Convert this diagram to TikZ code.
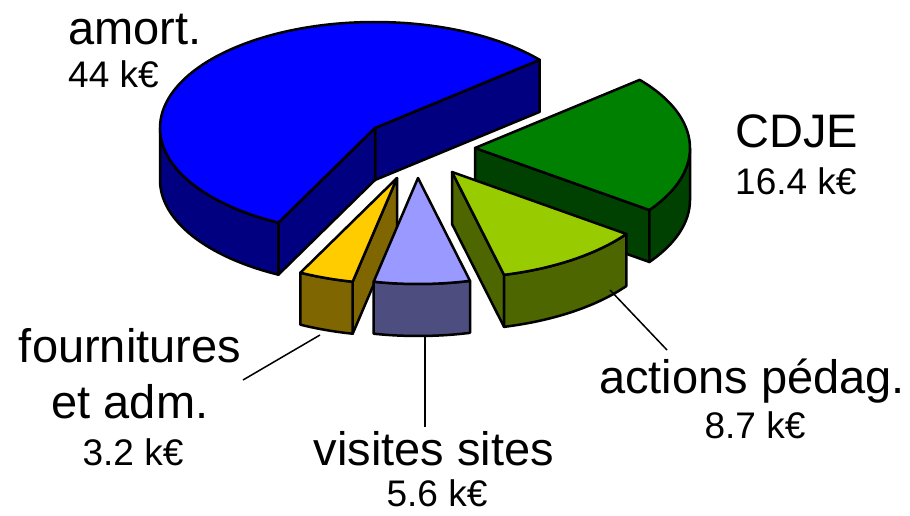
\documentclass[tikz,border=0pt]{standalone}
\usepackage{fontspec}
\setmainfont{Liberation Sans}
\usetikzlibrary{calc}

\definecolor{amortTop}{HTML}{0000FF}
\definecolor{amortSide}{HTML}{000080}
\definecolor{cdjeTop}{HTML}{008000}
\definecolor{cdjeSide}{HTML}{004000}
\definecolor{actTop}{HTML}{99CC00}
\definecolor{actSide}{HTML}{4D6600}
\definecolor{visTop}{HTML}{9999FF}
\definecolor{visSide}{HTML}{4D4D80}
\definecolor{fouTop}{HTML}{FFCC00}
\definecolor{fouSide}{HTML}{806600}

\begin{document}
\begin{tikzpicture}[x=1pt,y=1pt,
		face/.style={draw=black,line width=2.5pt,line join=round},
		rim/.style={x radius=215,y radius=106},
		lbl/.style={font=\fontsize{47}{56}\selectfont,inner sep=0pt},
		val/.style={font=\fontsize{37}{44}\selectfont,inner sep=0pt},
		leader/.style={line width=1.5pt}]
	
		\useasboundingbox (0,0) rectangle (910,515);
		
		\coordinate (cA) at (375,387);
		\coordinate (cB) at (475,367);
		\coordinate (cC) at (452,343);
		\coordinate (cD) at (418,337);
		\coordinate (cE) at (397,337);
		
		% amort.
		\filldraw[face,fill=amortSide] (cA) -- ($(cA)+(40:215 and 106)$) -- ++(0,-52) -- ($(cA)+(0,-52)$) -- cycle;
		\filldraw[face,fill=amortSide] (cA) -- ($(cA)+(243.3:215 and 106)$) -- ++(0,-52) -- ($(cA)+(0,-52)$) -- cycle;
		\filldraw[face,fill=amortSide] ($(cA)+(180:215 and 106)$) arc[rim,start angle=180,end angle=243.3] -- ++(0,-52) arc[rim,start angle=243.3,end angle=180] -- cycle;
		\filldraw[face,fill=amortTop] (cA) -- ($(cA)+(40:215 and 106)$) arc[rim,start angle=40,end angle=243.3] -- cycle;
		
		% CDJE
		\filldraw[face,fill=cdjeSide] (cB) -- ($(cB)+(324.2:215 and 106)$) -- ++(0,-52) -- ($(cB)+(0,-52)$) -- cycle;
		\filldraw[face,fill=cdjeSide] ($(cB)+(324.2:215 and 106)$) arc[rim,start angle=324.2,end angle=360] -- ++(0,-52) arc[rim,start angle=360,end angle=324.2] -- cycle;
		\filldraw[face,fill=cdjeTop] (cB) -- ($(cB)+(324.2:215 and 106)$) arc[rim,start angle=324.2,end angle=400] -- cycle;
		
		% actions
		\filldraw[face,fill=actSide] (cC) -- ($(cC)+(284:215 and 106)$) -- ++(0,-52) -- ($(cC)+(0,-52)$) -- cycle;
		\filldraw[face,fill=actSide] ($(cC)+(284:215 and 106)$) arc[rim,start angle=284,end angle=324.2] -- ++(0,-52) arc[rim,start angle=324.2,end angle=284] -- cycle;
		\filldraw[face,fill=actTop] (cC) -- ($(cC)+(284:215 and 106)$) arc[rim,start angle=284,end angle=324.2] -- cycle;
		
		% fournitures
		\filldraw[face,fill=fouSide] (cE) -- ($(cE)+(258.1:215 and 106)$) -- ++(0,-52) -- ($(cE)+(0,-52)$) -- cycle;
		\filldraw[face,fill=fouSide] ($(cE)+(243.3:215 and 106)$) arc[rim,start angle=243.3,end angle=258.1] -- ++(0,-52) arc[rim,start angle=258.1,end angle=243.3] -- cycle;
		\filldraw[face,fill=fouTop] (cE) -- ($(cE)+(243.3:215 and 106)$) arc[rim,start angle=243.3,end angle=258.1] -- cycle;
		
		% visites
		\filldraw[face,fill=visSide] ($(cD)+(258.1:215 and 106)$) arc[rim,start angle=258.1,end angle=284] -- ++(0,-52) arc[rim,start angle=284,end angle=258.1] -- cycle;
		\filldraw[face,fill=visTop] (cD) -- ($(cD)+(258.1:215 and 106)$) arc[rim,start angle=258.1,end angle=284] -- cycle;
		
		% labels
		\node[lbl,anchor=base west] (amortLbl) at (68,470) {amort.};
		\node[val,anchor=base west] (amortVal) at (68,427) {44 k€};
		\node[lbl,anchor=base west] (cdjeLbl) at (735,367) {CDJE};
		\node[val,anchor=base west] (cdjeVal) at (735,320) {16.4 k€};
		\node[lbl,anchor=base] (actLbl) at (752,122) {actions pédag.};
		\node[val,anchor=base] (actVal) at (755,77) {8.7 k€};
		\node[lbl,anchor=base] (visLbl) at (434,50) {visites sites};
		\node[val,anchor=base] (visVal) at (437,9) {5.6 k€};
		\node[lbl,anchor=base] (fouLbl) at (130,153) {fournitures};
		\node[lbl,anchor=base] (fouLblB) at (130,97) {et adm.};
		\node[val,anchor=base] (fouVal) at (133,50) {3.2 k€};
		
		\coordinate (actPin) at (610,225);
		\coordinate (actEnd) at (667,165);
		\coordinate (visPin) at (425,180);
		\coordinate (visEnd) at (425,88);
		\coordinate (fouPin) at (320,180);
		\coordinate (fouEnd) at (243,135);
		\draw[leader] (actPin) -- (actEnd);
		\draw[leader] (visPin) -- (visEnd);
		\draw[leader] (fouPin) -- (fouEnd);
	\end{tikzpicture}
\end{document}
